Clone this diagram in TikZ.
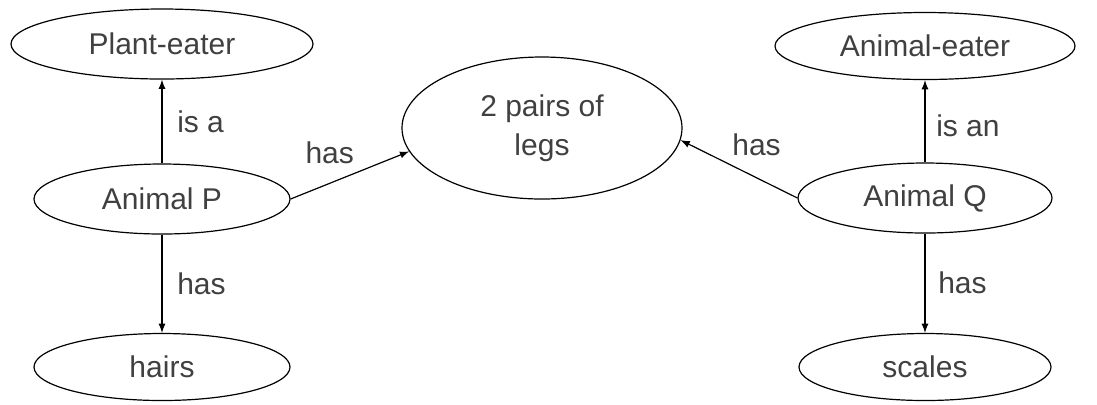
\documentclass[tikz,border=0pt]{standalone}
\usepackage{fontspec}
\setmainfont{Liberation Sans}
\usepackage{tikz}
\usetikzlibrary{shapes.geometric, positioning}
\usetikzlibrary{calc,arrows}

\begin{document}
\begin{tikzpicture}
	[   x=0.5pt,y=-0.5pt,
	    enode/.style={draw=black,line width=0.6pt,ellipse,inner sep=0pt,minimum width=#1,minimum height=35pt,
	                  text=black!75,font=\fontsize{15}{19.5}\selectfont},
	    elabel/.style={text=black!75,font=\fontsize{15}{19.5}\selectfont},
	]
	\tikzset{normal arrow/.style={draw,line width=0.6pt,-latex}}
	\useasboundingbox (0,0) rectangle (1097,404);
	
	\node[enode=151pt] (t-1) at (162,44) {Plant-eater};
	\node[enode=128pt] (a-1) at (162,199) {Animal P};
	\node[enode=128pt,minimum height=33.5pt] (b-1) at (162,367) {hairs};
	
	\node[enode=140pt,minimum height=71pt,align=center] (l) at (542,128) {2 pairs of\\legs};
	
	\node[enode=150pt,minimum height=33.5pt] (t-2) at (925,46) {Animal-eater};
	\node[enode=127pt] (a-2) at (925,198) {Animal Q};
	\node[enode=126pt,minimum height=33.5pt] (b-2) at (925,367) {scales};
	
	\foreach \x in {1,2}
	{
		\ifnum \x = 1
		\path[normal arrow] (a-\x.north) -- node[elabel,right=4pt,pos=0.5] {is a} (t-\x.south);
		\path[normal arrow] (a-\x.south) -- node[elabel,right=4pt,pos=0.5] {has} (b-\x.north);
		\else
		\path[normal arrow] (a-\x.north) -- node[elabel,right=2pt,pos=0.45] {is an} (t-\x.south);
		\path[normal arrow] (a-\x.south) -- node[elabel,right=3pt,pos=0.5] {has} (b-\x.north);
		\fi
	}
	
	\path[normal arrow] (a-1.east) -- node[elabel,above=6pt,pos=0.33] {has} (l.190);
	\path[normal arrow] (a-2.west) -- node[elabel,above=7.5pt,pos=0.35] {has} (l.355);
	
\end{tikzpicture}
\end{document}
